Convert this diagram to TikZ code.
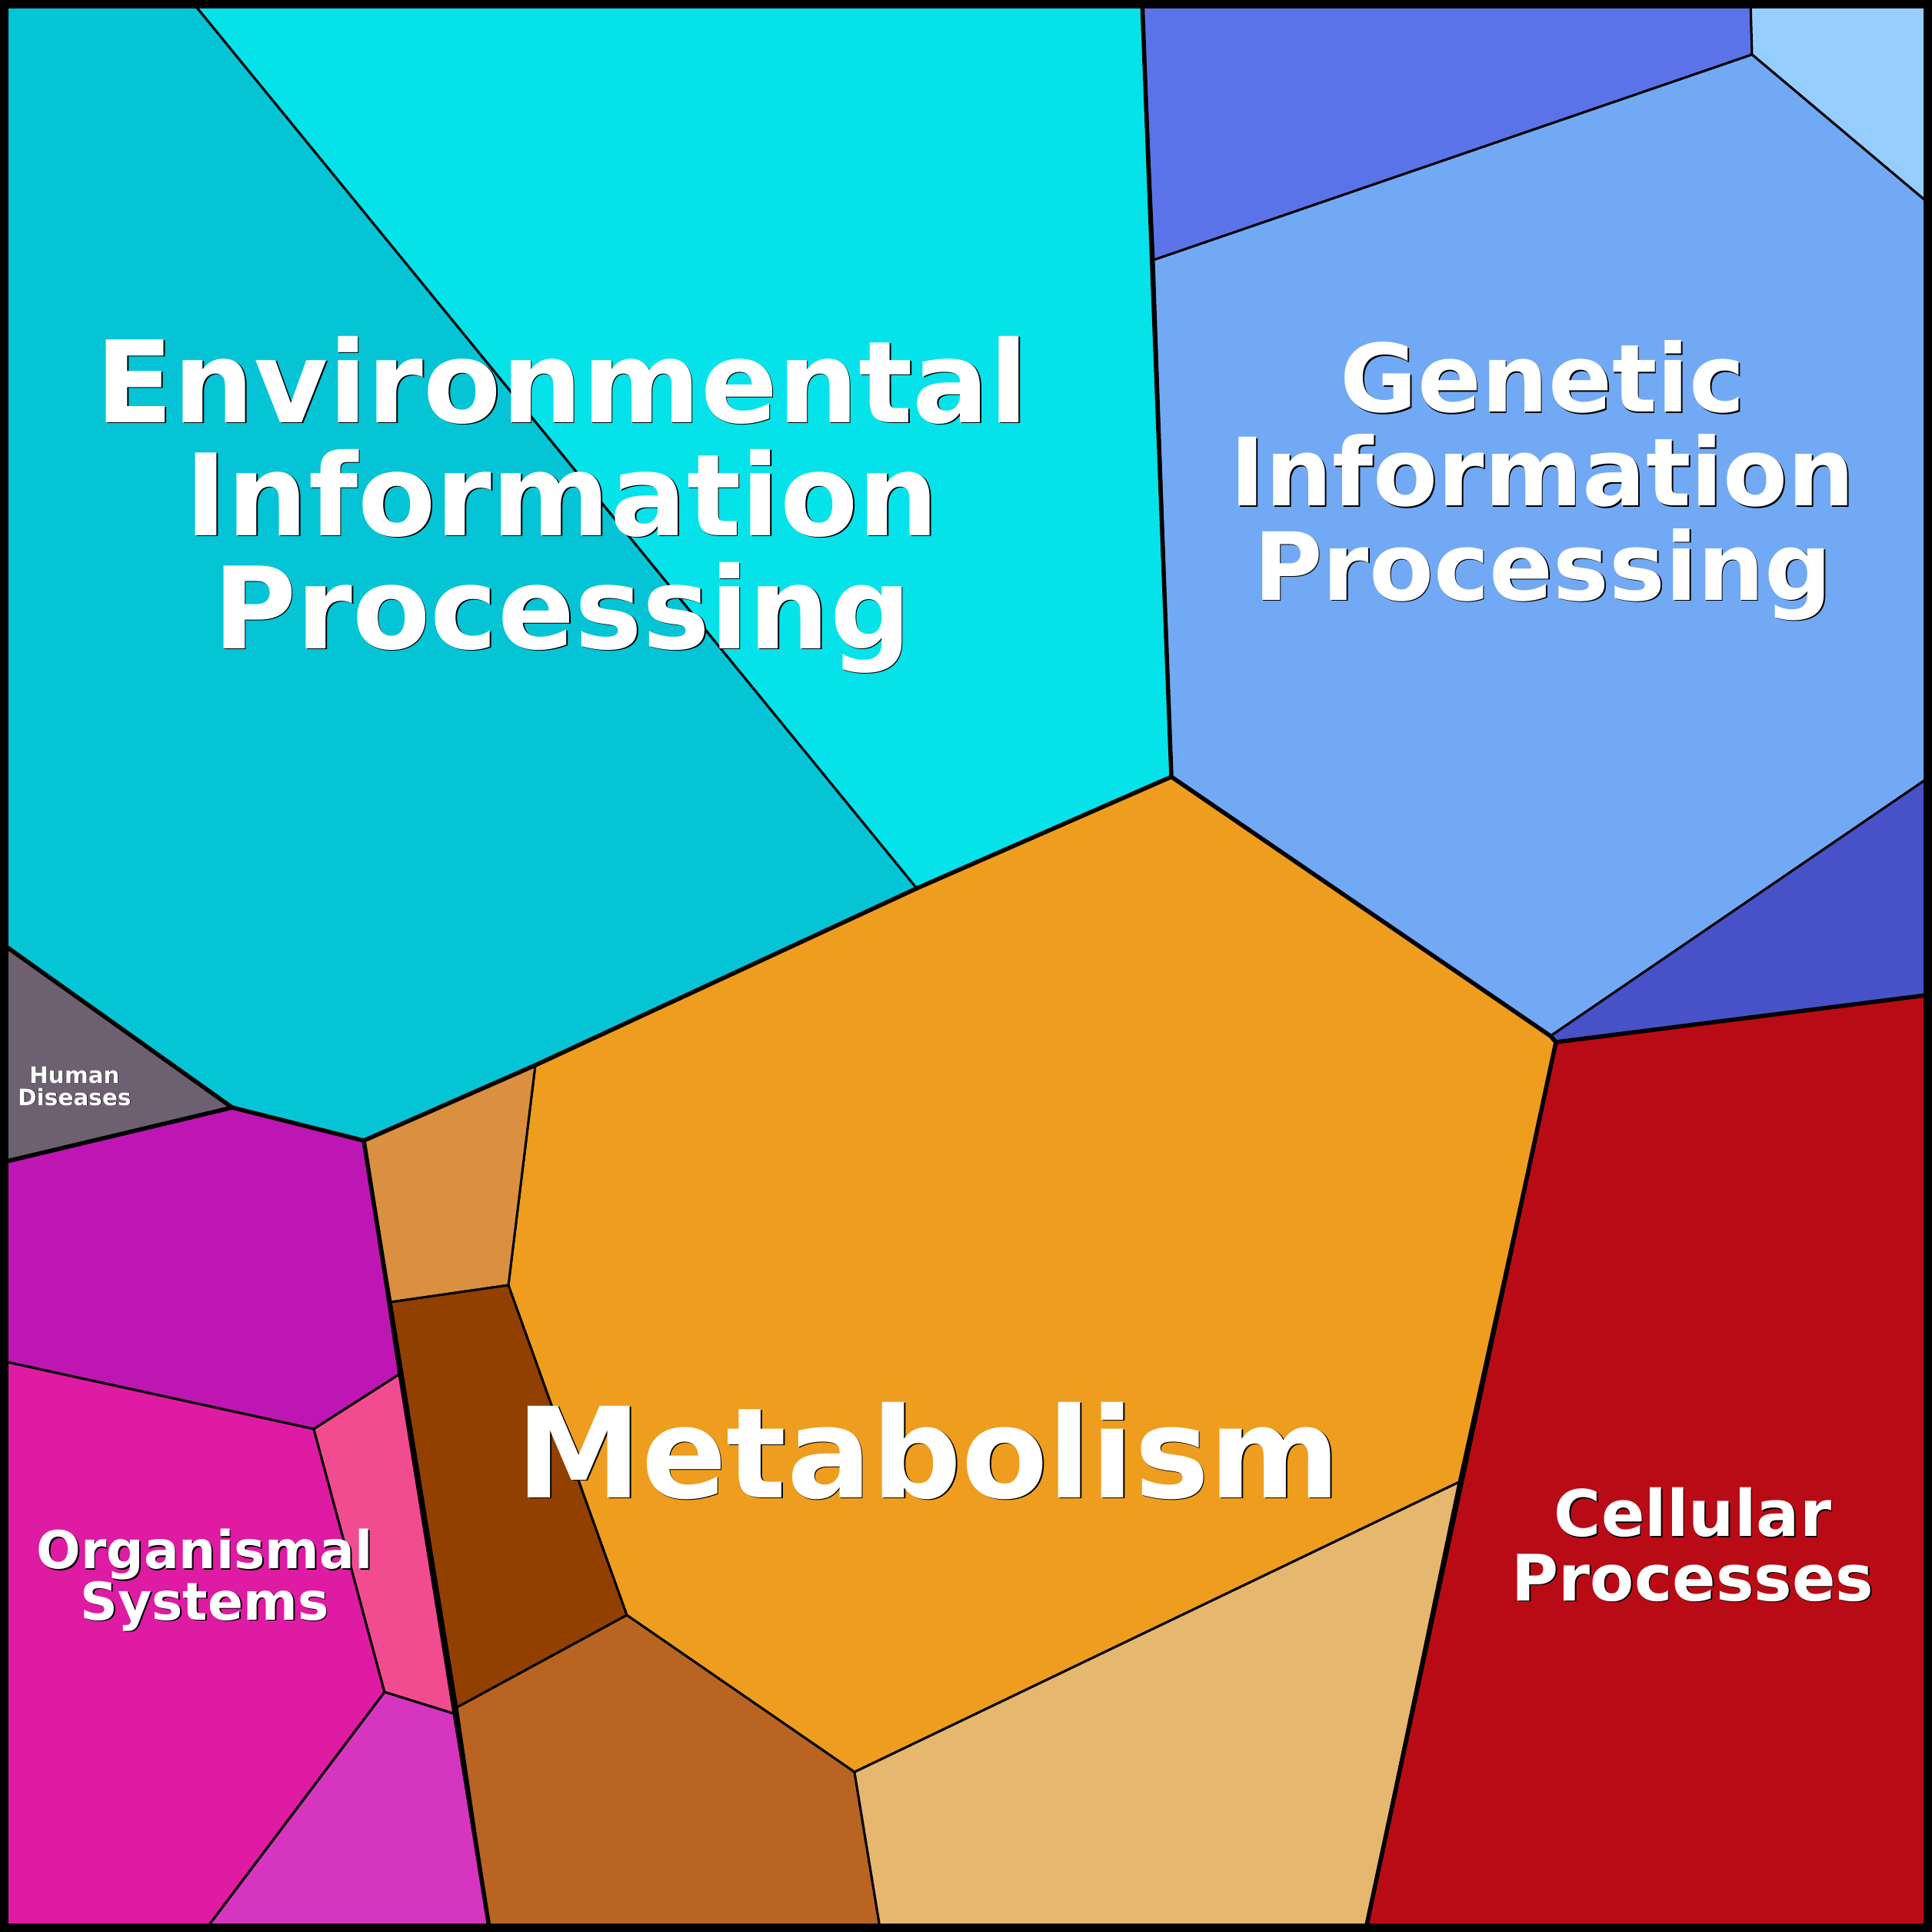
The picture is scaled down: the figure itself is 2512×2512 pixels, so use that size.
\documentclass[tikz,border=0pt]{standalone}
\usepackage{fontspec}
\setmainfont{DejaVu Sans}
\usepackage{tikz}
\definecolor{envdark}{HTML}{05C4D5}
\definecolor{envlight}{HTML}{05E2E9}
\definecolor{genblue}{HTML}{5B73E8}
\definecolor{genpale}{HTML}{95CEFE}
\definecolor{genmain}{HTML}{72A9F4}
\definecolor{gendark}{HTML}{4852C8}
\definecolor{metmain}{HTML}{EE9D1E}
\definecolor{metlight}{HTML}{DA9040}
\definecolor{metdark}{HTML}{924000}
\definecolor{metbrown}{HTML}{B96422}
\definecolor{mettan}{HTML}{E6B76E}
\definecolor{cellred}{HTML}{B90B15}
\definecolor{hdgray}{HTML}{6D6070}
\definecolor{orgpurple}{HTML}{BD16B3}
\definecolor{orgmagenta}{HTML}{DF1AA3}
\definecolor{orgpink}{HTML}{F24C90}
\definecolor{orgviolet}{HTML}{D535BF}
\newcommand{\tightlines}{\lineskiplimit=-100pt\relax}
\tikzstyle{cell} = [draw=black, line width=0.3mm, line join=round]
\tikzstyle{border} = [draw=black, line width=0.55mm, line join=round, line cap=round]
\tikzstyle{regiontext} = [text=white, align=center, anchor=base, inner sep=0pt]
\tikzstyle{textshadow} = [regiontext, text=black, xshift=0.17mm, yshift=-0.17mm]

\begin{document}
\begin{tikzpicture}[x=0.01cm, y=-0.01cm]
	\useasboundingbox (0,0) rectangle (2512,2512);
	% junctions of the main regions
	\coordinate (gtop) at (1485,0);
	\coordinate (gbot) at (1523,1010);
	\coordinate (emid) at (1192,1155);
	\coordinate (mtop) at (696,1385);
	\coordinate (mleft) at (473,1483);
	\coordinate (hdv) at (302,1440);
	\coordinate (gcorner) at (2023,1355);

	% Environmental Information Processing
	\fill[envdark, cell] (0,0) -- (248,0) -- (emid) -- (mtop) -- (mleft) -- (hdv) -- (0,1225) -- cycle;
	\fill[envlight, cell] (248,0) -- (gtop) -- (gbot) -- (emid) -- cycle;
	% Genetic Information Processing
	\fill[genblue, cell] (gtop) -- (2276,0) -- (2278,71) -- (1500,338) -- cycle;
	\fill[genpale, cell] (2276,0) -- (2512,0) -- (2512,268) -- (2278,71) -- cycle;
	\fill[genmain, cell] (1500,338) -- (2278,71) -- (2512,268) -- (2512,1008) -- (2016,1347) -- (gbot) -- cycle;
	\fill[gendark, cell] (2512,1008) -- (2512,1293) -- (gcorner) -- (2016,1347) -- cycle;
	% Metabolism
	\fill[metmain, cell] (mtop) -- (emid) -- (gbot) -- (2016,1347) -- (gcorner) -- (1897,1927) -- (1111,2304) -- (815,2100) -- (661,1671) -- cycle;
	\fill[metlight, cell] (mleft) -- (mtop) -- (661,1671) -- (508,1693) -- cycle;
	\fill[metdark, cell] (508,1693) -- (661,1671) -- (815,2100) -- (594,2220) -- cycle;
	\fill[metbrown, cell] (594,2220) -- (815,2100) -- (1111,2304) -- (1145,2512) -- (637,2512) -- cycle;
	\fill[mettan, cell] (1111,2304) -- (1897,1927) -- (1775,2512) -- (1145,2512) -- cycle;
	% Cellular Processes
	\fill[cellred, cell] (gcorner) -- (2512,1293) -- (2512,2512) -- (1775,2512) -- cycle;
	% Human Diseases
	\fill[hdgray, cell] (0,1225) -- (hdv) -- (0,1512) -- cycle;
	% Organismal Systems
	\fill[orgpurple, cell] (0,1512) -- (hdv) -- (mleft) -- (519,1787) -- (408,1858) -- (0,1769) -- cycle;
	\fill[orgmagenta, cell] (0,1769) -- (408,1858) -- (500,2200) -- (265,2512) -- (0,2512) -- cycle;
	\fill[orgpink, cell] (408,1858) -- (519,1787) -- (590,2228) -- (500,2200) -- cycle;
	\fill[orgviolet, cell] (500,2200) -- (590,2228) -- (637,2512) -- (265,2512) -- cycle;

	% borders between the main regions
	\draw[border] (gtop) -- (gbot) -- (2016,1347) -- (gcorner) -- (2512,1293);
	\draw[border] (gcorner) -- (1775,2512);
	\draw[border] (gbot) -- (emid) -- (mtop) -- (mleft) -- (hdv) -- (0,1225);
	\draw[border] (hdv) -- (0,1512);
	\draw[border] (mleft) -- (637,2512);
	\draw[line width=2.2mm] (0,0) rectangle (2512,2512);

	% labels (anchored at the baseline of the last line)
	\node (envshadow) [textshadow, font=\bfseries\fontsize{42}{41.8}\selectfont\tightlines] at (731,843) {Environmental\\Information\\Processing};
	\node (env) [regiontext, font=\bfseries\fontsize{42}{41.8}\selectfont\tightlines] at (731,843) {Environmental\\Information\\Processing};
	\node (genshadow) [textshadow, font=\bfseries\fontsize{34.8}{34.7}\selectfont\tightlines] at (2006,780) {Genetic\\Information\\Processing};
	\node (gen) [regiontext, font=\bfseries\fontsize{34.8}{34.7}\selectfont\tightlines] at (2006,780) {Genetic\\Information\\Processing};
	\node (metshadow) [textshadow, font=\bfseries\fontsize{46.5}{46.5}\selectfont] at (1207,1947) {Metabolism};
	\node (met) [regiontext, font=\bfseries\fontsize{46.5}{46.5}\selectfont] at (1207,1947) {Metabolism};
	\node (cellshadow) [textshadow, font=\bfseries\fontsize{23.7}{23.8}\selectfont\tightlines] at (2201,2081) {Cellular\\Processes};
	\node (cellp) [regiontext, font=\bfseries\fontsize{23.7}{23.8}\selectfont\tightlines] at (2201,2081) {Cellular\\Processes};
	\node (orgshadow) [textshadow, font=\bfseries\fontsize{19.3}{18.8}\selectfont\tightlines] at (266,2106) {Organismal\\Systems};
	\node (org) [regiontext, font=\bfseries\fontsize{19.3}{18.8}\selectfont\tightlines] at (266,2106) {Organismal\\Systems};
	\node (hdshadow) [textshadow, xshift=-0.1mm, yshift=0.1mm, font=\bfseries\fontsize{8.4}{8.2}\selectfont\tightlines] at (97,1437) {Human\\Diseases};
	\node (hd) [regiontext, font=\bfseries\fontsize{8.4}{8.2}\selectfont\tightlines] at (97,1437) {Human\\Diseases};
\end{tikzpicture}
\end{document}
